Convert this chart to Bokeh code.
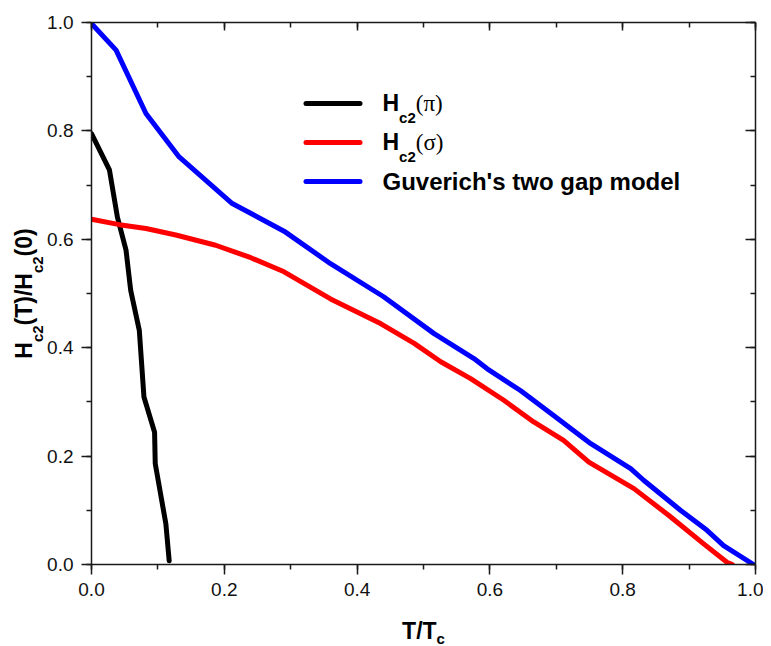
import math
from bokeh.plotting import figure
from bokeh.models import (Range1d, FixedTicker, LinearAxis, PrintfTickFormatter,
                          CustomJSTickFormatter, Label, Arrow)
from bokeh.core.properties import value
from bokeh.embed import file_html
from bokeh.resources import INLINE

# ---- data ----
pi_x = [0.000, 0.027, 0.039, 0.052, 0.059, 0.072, 0.079, 0.095, 0.096, 0.112, 0.117]
pi_y = [0.795, 0.728, 0.641, 0.580, 0.506, 0.432, 0.309, 0.244, 0.186, 0.075, 0.007]

sigma_x = [0.000, 0.042, 0.082, 0.127, 0.187, 0.240, 0.290, 0.360, 0.436, 0.486, 0.526,
           0.571, 0.621, 0.666, 0.711, 0.749, 0.817, 0.870, 0.922, 0.957, 0.965]
sigma_y = [0.637, 0.627, 0.620, 0.608, 0.589, 0.566, 0.540, 0.490, 0.444, 0.408, 0.374,
           0.343, 0.303, 0.263, 0.229, 0.189, 0.140, 0.090, 0.038, 0.004, 0.000]

model_x = [0.000, 0.037, 0.082, 0.132, 0.212, 0.290, 0.360, 0.440, 0.516, 0.576, 0.596,
           0.646, 0.696, 0.752, 0.812, 0.832, 0.887, 0.927, 0.952, 0.997]
model_y = [0.998, 0.949, 0.832, 0.752, 0.666, 0.615, 0.555, 0.494, 0.426, 0.380, 0.361,
           0.321, 0.275, 0.223, 0.177, 0.155, 0.100, 0.063, 0.035, 0.000]

major_ticks = [0.0, 0.2, 0.4, 0.6, 0.8, 1.0]
minor_ticks = [0.0, 0.1, 0.2, 0.3, 0.4, 0.5, 0.6, 0.7, 0.8, 0.9, 1.0]

series_colors = ["#000000", "#ff0000", "#0000ff"]
legend_main = ["H", "H", "Guverich's two gap model"]
legend_sub = ["c2", "c2", ""]
legend_tail = ["(\u03c0)", "(\u03c3)", ""]

# ---- layout ----
W, H = 763, 646
ML, MR, MT, MB = 91, 8, 22, 82
FW = W - ML - MR
FH = H - MT - MB

FONT = "Liberation Sans"
BIG = 23
SMALL = 15
# empirical shift of the rendered baseline (px) per font size
SHIFT_BIG = 8
SHIFT_SMALL = 5

# Arial/Liberation Sans Bold advance widths (per 1000 em)
ADV = {'H': 722, 'c': 556, '2': 556, '(': 333, ')': 333, 'T': 611, '/': 278, '0': 556}


def tw(s, size):
    return sum(ADV[ch] for ch in s) * size / 1000.0


p = figure(width=W, height=H, x_range=Range1d(0, 1), y_range=Range1d(0, 1),
           output_backend="svg", toolbar_location=None,
           min_border_left=ML, min_border_right=MR, min_border_top=MT, min_border_bottom=MB)
p.xgrid.visible = False
p.ygrid.visible = False
p.outline_line_color = None
p.background_fill_color = "white"
p.border_fill_color = "white"

for xs, ys, col in zip([pi_x, sigma_x, model_x], [pi_y, sigma_y, model_y], series_colors):
    p.line(xs, ys, line_color=col, line_width=5, line_join="round", line_cap="round")

AX_COL = "#1a1a1a"


def style_axis(ax, tick_in, tick_out, minor_in, minor_out, labels=True):
    ax.ticker = FixedTicker(ticks=major_ticks, minor_ticks=minor_ticks)
    ax.axis_line_color = AX_COL
    ax.axis_line_width = 1.5
    ax.major_tick_line_color = AX_COL
    ax.major_tick_line_width = 1.5
    ax.minor_tick_line_color = AX_COL
    ax.minor_tick_line_width = 1.5
    ax.major_tick_in = tick_in
    ax.major_tick_out = tick_out
    ax.minor_tick_in = minor_in
    ax.minor_tick_out = minor_out
    if labels:
        ax.formatter = PrintfTickFormatter(format="%.1f")
        ax.major_label_text_font = FONT
        ax.major_label_text_font_size = "19px"
        ax.major_label_text_color = "#111111"
        ax.major_label_standoff = 8
    else:
        ax.formatter = CustomJSTickFormatter(code="return ''")
        ax.major_label_text_font_size = "1px"
        ax.major_label_standoff = 0


style_axis(p.xaxis[0], 0, 10, 0, 5)
style_axis(p.yaxis[0], 0, 10, 0, 5)
top = LinearAxis()
style_axis(top, 8, 0, 5, 0, labels=False)
p.add_layout(top, "above")
right = LinearAxis()
style_axis(right, 10, 0, 5, 0, labels=False)
p.add_layout(right, "right")


def add_label(x, y, text, size, font=FONT, style="bold"):
    p.add_layout(Label(x=x, y=y, x_units="screen", y_units="screen", text=text,
                       text_font=font, text_font_style=style,
                       text_font_size=f"{size}px", text_color="#000000",
                       text_align="left", text_baseline="alphabetic"))


# ---- legend (custom, to allow subscripts) ----
leg_line_x0, leg_line_x1 = 214.5, 268.5
leg_text_x = 291
leg_line_y = [461, 422, 383]
for i, col in enumerate(series_colors):
    ly = leg_line_y[i]
    p.add_layout(Arrow(end=None, x_start=leg_line_x0, y_start=ly, x_end=leg_line_x1, y_end=ly,
                       start_units="screen", end_units="screen",
                       line_color=col, line_width=5, line_cap="round"))
    yb = ly - 7.5
    x = leg_text_x
    if legend_sub[i]:
        add_label(x, yb + SHIFT_BIG, legend_main[i], BIG)
        x += tw(legend_main[i], BIG)
        add_label(x, yb - 11 + SHIFT_SMALL, legend_sub[i], SMALL)
        x += tw(legend_sub[i], SMALL)
        add_label(x, yb + SHIFT_BIG, legend_tail[i], BIG, font="Liberation Serif", style="normal")
    else:
        add_label(x, yb + SHIFT_BIG, legend_main[i], 24)


# ---- axis titles: text glyphs anchored at the frame's lower-left corner, drawn above the frame clip ----
def add_title_piece(dx, dy, text, size, angle=0.0):
    p.text(x=[p.x_range.start], y=[p.y_range.start], text=[text],
           x_offset=dx, y_offset=dy, angle=angle,
           text_font=value(FONT), text_font_style="bold", text_font_size=value(f"{size}px"),
           text_color="#000000", text_align="left", text_baseline="alphabetic",
           level="overlay")


# x title: T/T_c
xl_total = tw("T/T", BIG) + tw("c", SMALL)
xs0 = FW / 2 - xl_total / 2
add_title_piece(xs0, 74 - SHIFT_BIG, "T/T", BIG)
add_title_piece(xs0 + tw("T/T", BIG), 79 - SHIFT_SMALL, "c", SMALL)

# y title: H_c2(T)/H_c2(0)
pieces = [("H", BIG, 0), ("c2", SMALL, 11), ("(T)/H", BIG, 0), ("c2", SMALL, 11), ("(0)", BIG, 0)]
yl_total = sum(tw(s, sz) for s, sz, _ in pieces)
ypos = FH / 2 - yl_total / 2
for s, sz, off in pieces:
    shift = SHIFT_BIG if sz == BIG else SHIFT_SMALL
    add_title_piece(-60 + off - shift, -ypos, s, sz, angle=math.pi / 2)
    ypos += tw(s, sz)

open("out.html", "w").write(file_html(p, INLINE))
